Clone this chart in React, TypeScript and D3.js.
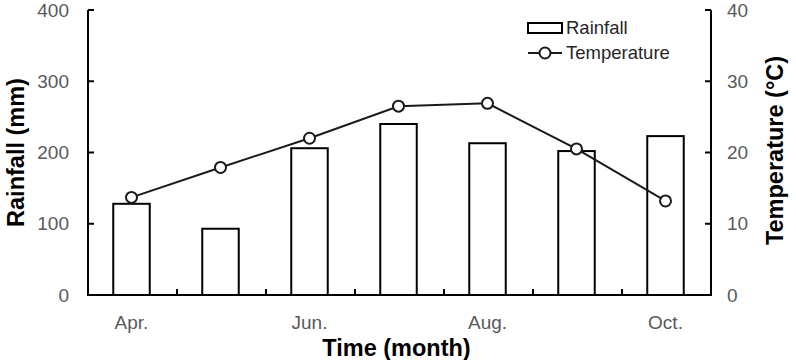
import React from "react";
import * as d3 from "d3";

const months = ["Apr.", "May", "Jun.", "Jul.", "Aug.", "Sep.", "Oct."];
const monthLabels = ["Apr.", "", "Jun.", "", "Aug.", "", "Oct."];
const rainfall = [128, 93, 206, 240, 213, 202, 223];
const temperature = [13.7, 17.9, 22.0, 26.5, 26.9, 20.5, 13.2];
const rainTicks = [0, 100, 200, 300, 400];
const tempTicks = [0, 10, 20, 30, 40];

const W = 796;
const H = 360;
const left = 88;
const right = 711;
const top = 10;
const bottom = 295;
const font = "'Liberation Sans', Arial, sans-serif";
const gray = "#595959";
const tickSize = 19;
const titleSize = 23.5;

export default function App() {
  const x = d3.scaleBand<string>().domain(months).range([left, right]).paddingInner(0).paddingOuter(0);
  const barW = x.bandwidth() * 0.41;
  const yR = d3.scaleLinear().domain([0, 400]).range([bottom, top]);
  const yT = d3.scaleLinear().domain([0, 40]).range([bottom, top]);
  const cx = (m: string) => (x(m) as number) + x.bandwidth() / 2 - 1;
  const line = d3
    .line<number>()
    .x((_, i) => cx(months[i]))
    .y((d) => yT(d));
  const boundaries = months.slice(1).map((m) => x(m) as number);

  return (
    <svg width={W} height={H} style={{ position: "absolute", left: 0, top: 0, background: "#fff" }}>
      {/* bars */}
      {rainfall.map((v, i) => (
        <rect
          key={i}
          x={cx(months[i]) - barW / 2}
          y={yR(v)}
          width={barW}
          height={bottom - yR(v)}
          fill="#fff"
          stroke="#000"
          strokeWidth={2}
        />
      ))}
      {/* line */}
      <path d={line(temperature) || ""} fill="none" stroke="#1a1a1a" strokeWidth={2} />
      {temperature.map((v, i) => (
        <circle key={i} cx={cx(months[i])} cy={yT(v)} r={5.5} fill="#fff" stroke="#1a1a1a" strokeWidth={2} />
      ))}
      {/* axes */}
      <line x1={left} x2={left} y1={top} y2={bottom} stroke="#000" strokeWidth={2} />
      <line x1={right} x2={right} y1={top} y2={bottom} stroke="#000" strokeWidth={2} />
      <line x1={left - 1} x2={right + 1} y1={bottom} y2={bottom} stroke="#000" strokeWidth={2} />
      {rainTicks.map((t) => (
        <g key={"l" + t}>
          <line x1={left} x2={left + 6} y1={yR(t)} y2={yR(t)} stroke="#000" strokeWidth={2} />
          <text x={69} y={yR(t)} dy="0.35em" textAnchor="end" fontFamily={font} fontSize={tickSize} fill={gray}>
            {t}
          </text>
        </g>
      ))}
      {tempTicks.map((t) => (
        <g key={"r" + t}>
          <line x1={right - 6} x2={right} y1={yT(t)} y2={yT(t)} stroke="#000" strokeWidth={2} />
          <text x={727} y={yT(t)} dy="0.35em" textAnchor="start" fontFamily={font} fontSize={tickSize} fill={gray}>
            {t}
          </text>
        </g>
      ))}
      {boundaries.map((b, i) => (
        <line key={"b" + i} x1={b} x2={b} y1={bottom} y2={bottom - 6} stroke="#000" strokeWidth={2} />
      ))}
      {months.map((m, i) => (
        <text key={"x" + i} x={cx(m)} y={322} dy="0.35em" textAnchor="middle" fontFamily={font} fontSize={tickSize} fill={gray}>
          {monthLabels[i]}
        </text>
      ))}
      {/* titles */}
      <text x={(left + right) / 2 - 3} y={348} dy="0.35em" textAnchor="middle" fontFamily={font} fontSize={titleSize} fontWeight="bold" fill="#000">
        Time (month)
      </text>
      <text
        transform={`translate(16,${(top + bottom) / 2}) rotate(-90)`}
        dy="0.35em"
        textAnchor="middle"
        fontFamily={font}
        fontSize={titleSize}
        fontWeight="bold"
        fill="#000"
      >
        Rainfall (mm)
      </text>
      <text
        transform={`translate(775,${(top + bottom) / 2 - 2}) rotate(-90)`}
        dy="0.35em"
        textAnchor="middle"
        fontFamily={font}
        fontSize={titleSize}
        fontWeight="bold"
        fill="#000"
      >
        Temperature (°C)
      </text>
      {/* legend */}
      <rect x={528} y={23} width={34} height={10} fill="#fff" stroke="#000" strokeWidth={2} />
      <text x={566} y={28} dy="0.35em" fontFamily={font} fontSize={18.5} fill="#262626">
        Rainfall
      </text>
      <line x1={528} x2={562} y1={53} y2={53} stroke="#1a1a1a" strokeWidth={2} />
      <circle cx={545} cy={53} r={5.5} fill="#fff" stroke="#1a1a1a" strokeWidth={2} />
      <text x={566} y={53} dy="0.35em" fontFamily={font} fontSize={18.5} fill="#262626">
        Temperature
      </text>
    </svg>
  );
}
